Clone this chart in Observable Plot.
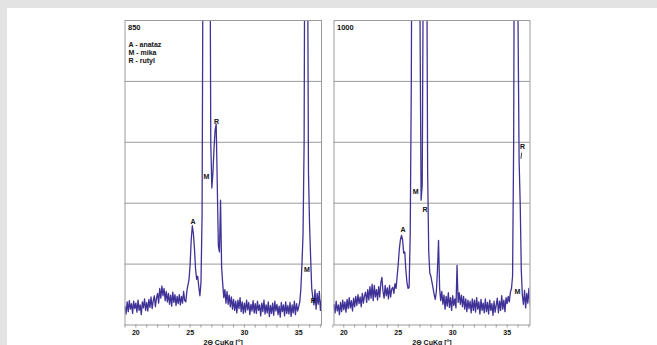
<!DOCTYPE html>
<html>
<head>
<meta charset="utf-8">
<script src="https://cdn.jsdelivr.net/npm/d3@7"></script>
<script src="https://cdn.jsdelivr.net/npm/@observablehq/plot@0.6"></script>
<style>
  html, body { margin: 0; padding: 0; background: #e3e3e3; width: 657px; height: 345px; overflow: hidden; }
  #sheet { position: absolute; left: 7px; top: 8px; width: 650px; height: 337px; background: #ffffff; }
  .panel { position: absolute; top: 0; }
</style>
</head>
<body>
<div id="sheet"></div>
<div id="p1" class="panel" style="left:0px"></div>
<div id="p2" class="panel" style="left:327px"></div>
<script>
// ---- data ----
const panelTitles = ["850", "1000"];
const legendLines = ["A - anataz", "M - mika", "R - rutyl"];
const axisTitle = "2\u0398 CuK\u03b1 [\u00b0]";
const tickLabels = [20, 25, 30, 35];
const minorTicks = [19, 20, 21, 22, 23, 24, 25, 26, 27, 28, 29, 30, 31, 32, 33, 34, 35, 36, 37];
const gridLevels = [100, 200, 300, 400];

// 850 pattern: 2theta from 19.0 in 0.1 steps
const start850 = 19.0;
const counts850 = [
  30, 18, 38, 22, 40, 26, 35, 19, 39, 27,
  36, 21, 41, 24, 33, 17, 38, 28, 43, 24,
  37, 23, 42, 29, 46, 27, 40, 48, 30, 44,
  52, 36, 60, 44, 64, 48, 60, 40, 55, 38,
  52, 34, 49, 31, 54, 37, 50, 32, 47, 35,
  50, 33, 47, 36, 55, 40, 38, 56, 66, 75,
  100, 140, 163, 150, 125, 92, 75, 80, 62, 48,
  70, 180, 700, 900, 900, 900, 900, 900, 800, 300,
  225, 250, 290, 320, 330, 230, 130, 120, 205, 95,
  68, 45, 58, 36, 55, 34, 49, 30, 46, 26,
  42, 24, 39, 20, 41, 27, 45, 22, 38, 19,
  36, 21, 41, 25, 37, 17, 34, 23, 40, 20,
  35, 19, 39, 24, 33, 15, 36, 22, 41, 18,
  33, 20, 38, 14, 32, 19, 36, 16, 39, 23,
  34, 17, 31, 13, 37, 22, 33, 15, 38, 19,
  32, 18, 37, 14, 33, 20, 39, 17, 35, 23,
  30, 38, 60, 100, 150, 300, 900, 900, 700, 250,
  165, 110, 60, 45, 33, 58, 26, 52, 34, 55,
  24, 42
];

// 1000 pattern: 2theta from 19.1 in 0.1 steps
const start1000 = 19.1;
const counts1000 = [
  34, 20, 39, 23, 33, 17, 37, 22, 41,
  25, 38, 21, 42, 27, 45, 28, 40, 23, 44,
  30, 47, 32, 50, 35, 46, 30, 52, 36, 48,
  54, 37, 58, 41, 63, 44, 67, 40, 65, 46,
  58, 41, 63, 46, 69, 78, 55, 44, 65, 48,
  61, 43, 65, 46, 59, 62, 52, 68, 60, 80,
  100, 125, 140, 147, 140, 118, 120, 90, 70, 60,
  62, 150, 400, 900, 900, 900, 900, 900, 900, 900,
  500, 205, 230, 600, 900, 900, 700, 250, 120, 85,
  80, 70, 60, 50, 42, 55, 90, 139, 60, 40,
  55, 34, 49, 26, 47, 31, 53, 29, 45, 24,
  48, 32, 43, 28, 98, 37, 53, 34, 49, 30,
  47, 26, 43, 22, 41, 27, 39, 20, 43, 24,
  41, 21, 45, 26, 38, 18, 42, 24, 36, 20,
  43, 22, 37, 18, 41, 24, 35, 16, 39, 21,
  33, 44, 20, 39, 24, 48, 26, 41, 22, 45,
  35, 47, 38, 54, 60, 80, 300, 900, 900, 900,
  500, 270, 200, 90, 48, 34, 57, 28, 52, 36,
  60, 32
];

// peak labels
const peakLetters850 = ["A", "M", "R", "M", "R"];
const peakX850 = [25.27, 26.5, 27.42, 35.76, 36.34];
const peakV850 = [169, 243, 334, 91, 39];
const peakLetters1000 = ["A", "M", "R", "R", "M"];
const peakX1000 = [25.43, 26.6, 27.45, 36.41, 35.95];
const peakV1000 = [156, 218, 190, 292, 54];

// ---- drawing ----
const LINE = "#3f3296";
const GRAY = "#9b9b9b";
const FONT = "Liberation Sans, Arial, sans-serif";

function series(start, counts) {
  return counts.map((v, i) => ({x: Math.round((start + i * 0.1) * 100) / 100, v}));
}
function labels(letters, xs, vs) {
  return letters.map((t, i) => ({t, x: xs[i], v: vs[i]}));
}

function panel({width, marginLeft, marginRight, xDomain, data, title, peaks, extra}) {
  return Plot.plot({
    width, height: 345,
    marginLeft, marginRight, marginTop: 20, marginBottom: 20.5,
    style: {background: "transparent", fontFamily: FONT, fontSize: "7px", fontWeight: "bold", color: "#111"},
    x: {domain: xDomain},
    y: {domain: [0, 500], axis: null},
    marks: [
      Plot.gridY(gridLevels, {stroke: GRAY, strokeOpacity: 1, strokeWidth: 1}),
      Plot.axisX(minorTicks, {tickSize: 3, text: null, stroke: GRAY, label: null}),
      Plot.axisX(tickLabels, {tickSize: 0, tickPadding: 5, label: null, fontWeight: "bold", fontSize: 7, fill: "#111"}),
      Plot.line(data, {x: "x", y: "v", stroke: LINE, strokeWidth: 1.3, clip: true}),
      Plot.frame({stroke: GRAY, strokeWidth: 1}),
      Plot.text(peaks, {x: "x", y: "v", text: "t", fontSize: 7, fontWeight: "bold", fill: "#111"}),
      Plot.text([title], {frameAnchor: "top-left", dx: 3, dy: 4, fontSize: 7.5, fontWeight: "bold", fill: "#111"}),
      Plot.text([axisTitle], {frameAnchor: "bottom", dy: 20, fontSize: 7, fontWeight: "bold", fill: "#111"}),
      ...(extra || [])
    ]
  });
}

const d850 = series(start850, counts850);
const d1000 = series(start1000, counts1000);

document.getElementById("p1").append(panel({
  width: 327, marginLeft: 124.5, marginRight: 6, xDomain: [19.0, 37.1],
  data: d850, title: panelTitles[0],
  peaks: labels(peakLetters850, peakX850, peakV850),
  extra: [Plot.text([legendLines.join("\n")], {frameAnchor: "top-left", dx: 3.5, dy: 20.5, lineHeight: 1.18, fontSize: 7, fontWeight: "bold", fill: "#111"})]
}));

document.getElementById("p2").append(panel({
  width: 330, marginLeft: 6.5, marginRight: 127.5, xDomain: [19.1, 37.1],
  data: d1000, title: panelTitles[1],
  peaks: labels(peakLetters1000, peakX1000, peakV1000),
  extra: [Plot.link([{x1: 36.27, y1: 273, x2: 36.33, y2: 283}], {x1: "x1", y1: "y1", x2: "x2", y2: "y2", stroke: "#111", strokeWidth: 0.8})]
}));
</script>
</body>
</html>
